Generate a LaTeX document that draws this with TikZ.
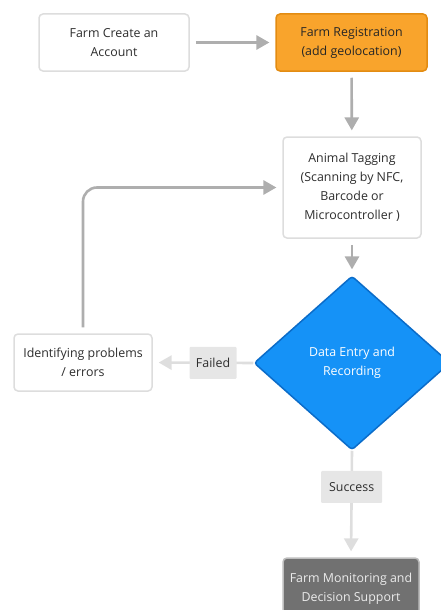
\documentclass[tikz,border=0pt]{standalone}
\usepackage{fontspec}
\setmainfont{Open Sans}
\usepackage{tikz}
\usetikzlibrary{shapes,arrows}

\definecolor{txtgray}{HTML}{2E2E2E}
\definecolor{boxline}{HTML}{DDDDDD}
\definecolor{darkline}{HTML}{AEAEAE}
\definecolor{lightline}{HTML}{DEDEDE}
\definecolor{regfill}{HTML}{F9A42C}
\definecolor{regline}{HTML}{E38C12}
\definecolor{decfill}{HTML}{1592F7}
\definecolor{decline}{HTML}{0B6CC9}
\definecolor{monfill}{HTML}{717171}
\definecolor{lblfill}{HTML}{E6E6E6}

\begin{document}
\begin{tikzpicture}[x=1pt,y=-1pt,thick, >=triangle 60,
    font=\fontsize{12.4}{19}\selectfont,
    box/.style={draw=boxline,line width=1.5pt,fill=white,rounded corners=4pt,
        text=txtgray,align=center,inner sep=0pt},
    lbl/.style={fill=lblfill,text=txtgray,inner sep=0pt,minimum height=32pt,rounded corners=1pt},
    flow/.style={draw=darkline,line width=2.6pt,->,shorten >=6pt,shorten <=6pt},
    branch/.style={draw=lightline,line width=2.6pt,->,shorten >=6pt}]
\useasboundingbox (0,0) rectangle (441,610);
\draw
    node at (114,42.5)[box,minimum width=150pt,minimum height=57pt,name=acc]{Farm Create an\\Account}
    node at (351.5,42.5)[box,draw=regline,fill=regfill,text=black!85,minimum width=151pt,minimum height=57pt,name=reg]{Farm Registration\\(add geolocation)}
    node at (352,187.5)[box,minimum width=138pt,minimum height=101pt,name=tag]{Animal Tagging\\(Scanning by NFC,\\Barcode or\\Microcontroller )}
    node at (352,363)[diamond,draw=decline,fill=decfill,line width=1.5pt,rounded corners=3pt,
        minimum width=196pt,minimum height=174pt,inner sep=0pt,aspect=1.13,text=white,align=center,name=dec]{Data Entry and\\Recording}
    node at (83,362.5)[box,minimum width=138pt,minimum height=57pt,name=idf]{Identifying problems\\/ errors}
    node at (351,589)[box,draw=boxline!70!monfill,fill=monfill,text=white!92!black,minimum width=136pt,minimum height=62pt,name=mon]{Farm Monitoring and\\Decision Support}
;

    \draw[flow](acc) -- (reg);
    \draw[flow](reg) -- (tag);
    \draw[flow](tag) -- (dec);
    \draw[branch](dec.west) -- node[lbl,pos=0.4,minimum width=47pt]{Failed} (idf.east);
    \draw[branch](dec.south) -- node[lbl,pos=0.34,minimum width=61pt]{Success} (mon.north);
    \draw[flow,rounded corners=14pt](idf.north) |- (tag.west);
\end{tikzpicture}
\end{document}
